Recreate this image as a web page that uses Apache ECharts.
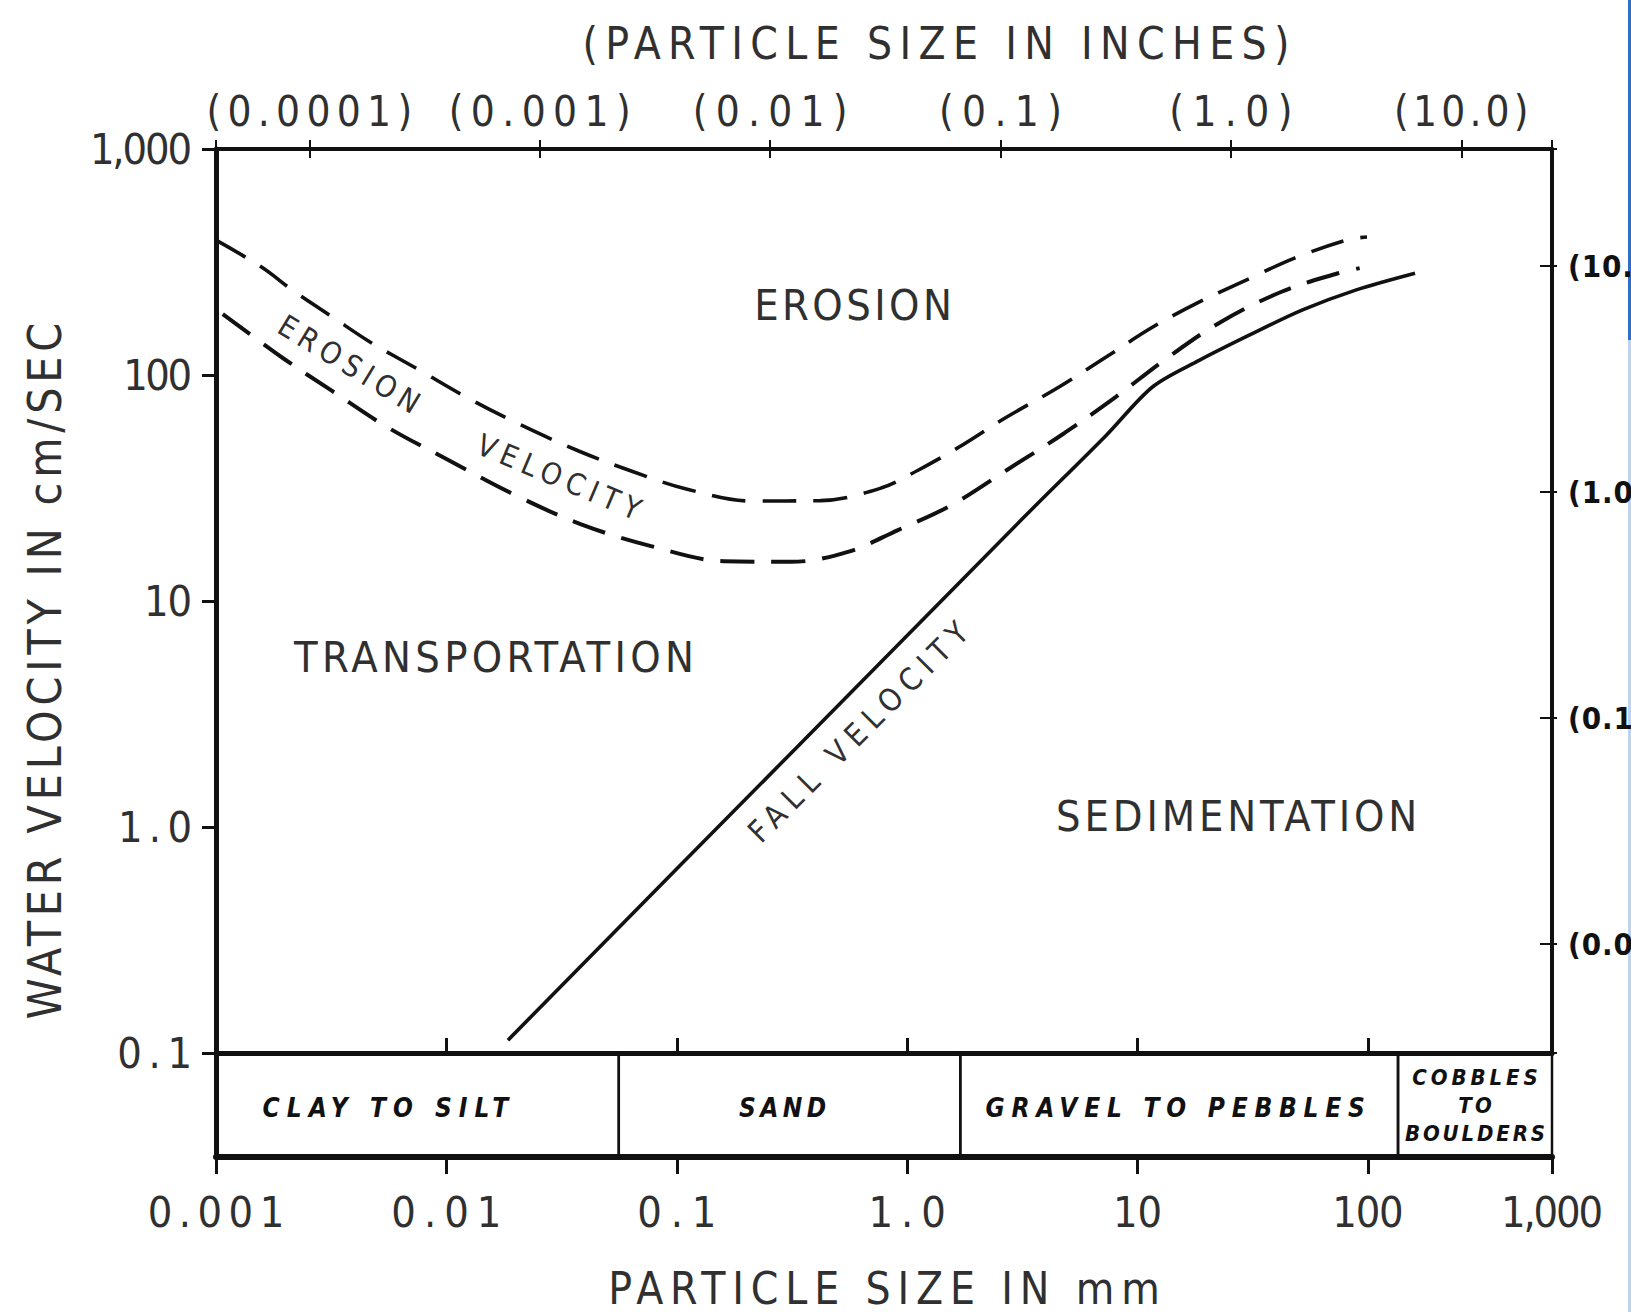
<!DOCTYPE html>
<html>
<head>
<meta charset="utf-8">
<title>Erosion, transportation and sedimentation vs particle size</title>
<script src="https://cdn.jsdelivr.net/npm/echarts@6.0.0/dist/echarts.min.js"></script>
<style>
html,body{margin:0;padding:0;background:#ffffff;overflow:hidden;}
#chart{width:1631px;height:1312px;}
</style>
</head>
<body>
<div id="chart"></div>
<script>
// ---------------- data ----------------
const xExtentMm = [0.001, 629];
const yExtentCmS = [0.1, 1000];
const MM_PER_INCH = 25.4;
const CM_PER_FOOT = 30.48;

const mmTickValues = [0.001, 0.01, 0.1, 1, 10, 100, 629];
const mmTickLabels = ['0.001', '0.01', '0.1', '1.0', '10', '100', '1,000'];
const inchTickValues = [0.0001, 0.001, 0.01, 0.1, 1, 10];
const inchTickLabels = ['(0.0001)', '(0.001)', '(0.01)', '(0.1)', '(1.0)', '(10.0)'];
const cmsTickValues = [0.1, 1, 10, 100, 1000];
const cmsTickLabels = ['0.1', '1.0', '10', '100', '1,000'];
const ftsTickValues = [0.01, 0.1, 1, 10];
const ftsTickLabels = ['(0.01)', '(0.1)', '(1.0)', '(10.0)'];

const sizeClassNames = ['CLAY TO SILT', 'SAND', 'GRAVEL TO PEBBLES', 'COBBLES\nTO\nBOULDERS'];
const sizeClassBounds = [0.001, 0.056, 1.7, 135, 629];

// upper limit of erosion velocity band [mm, cm/s]
const erosionUpper = [
  [0.001, 395], [0.00157, 301], [0.0022, 233], [0.00319, 181], [0.00466, 140],
  [0.00753, 106], [0.0126, 78.4], [0.0215, 59.5], [0.0375, 46.1], [0.0652, 37.2],
  [0.11, 31.3], [0.21, 27.7], [0.42, 27.8], [0.77, 31.6], [1.12, 38], [1.68, 48],
  [2.66, 64.5], [4.56, 88.5], [7.3, 120], [11.4, 161], [18.1, 208], [31, 269],
  [48, 329], [81, 396], [99, 408]
];
// lower limit of erosion velocity band
const erosionLower = [
  [0.00107, 186], [0.00197, 118], [0.00319, 85], [0.00552, 58.9], [0.01, 42.5],
  [0.0195, 29.7], [0.0382, 21.9], [0.0773, 17.5], [0.16, 15.0], [0.313, 14.9],
  [0.553, 16.5], [0.912, 20.6], [1.56, 26.6], [2.71, 38], [4.82, 55.4], [8.05, 80],
  [13, 116], [22.6, 170], [41.9, 233], [74, 282], [92, 297]
];
// fall velocity
const fallVelocity = [
  [0.0185, 0.114], [0.1, 0.653], [1, 7.03], [3.16, 23.1], [7.3, 54], [11.6, 88.5],
  [18.5, 116], [30.5, 150], [52, 194], [89, 238], [160, 282]
];

// ---------------- styling ----------------
const FONT = '"Liberation Sans Narrow","DejaVu Sans Condensed","Arial Narrow",sans-serif';
const INK = '#111111';
const TEXT = '#303030';
const classLabelShift = [-32, -7, -4, 0];

function fmt(values, labels) {
  return function (v) {
    const lv = Math.log10(v);
    for (let i = 0; i < values.length; i++) {
      if (Math.abs(lv - Math.log10(values[i])) < 1e-6) return labels[i];
    }
    return '';
  };
}

const numLabel = { fontFamily: FONT, fontSize: 43, color: TEXT };

const option = {
  animation: false,
  backgroundColor: '#ffffff',
  textStyle: { fontFamily: FONT },
  grid: [
    { left: 216, top: 149, width: 1336, height: 904, containLabel: false, outerBoundsMode: 'none' },
    { left: 216, top: 1053, width: 1336, height: 104, containLabel: false, outerBoundsMode: 'none' }
  ],
  xAxis: [
    { gridIndex: 0, type: 'log', logBase: 10, position: 'bottom',
      min: xExtentMm[0], max: xExtentMm[1],
      axisLine: { show: true, onZero: false, lineStyle: { color: INK, width: 5 } },
      axisTick: { show: true, inside: true, length: 15, lineStyle: { color: INK, width: 3 } },
      axisLabel: { show: false }, splitLine: { show: false } },
    { gridIndex: 0, type: 'log', logBase: 10, position: 'top',
      min: xExtentMm[0] / MM_PER_INCH, max: xExtentMm[1] / MM_PER_INCH,
      axisLine: { show: true, onZero: false, lineStyle: { color: INK, width: 4 } },
      axisTick: { show: true, inside: false, length: 9, lineStyle: { color: INK, width: 2 } },
      axisLabel: Object.assign({}, numLabel, { fontSize: 42, margin: 17, showMinLabel: true, showMaxLabel: true,
        formatter: fmt(inchTickValues, inchTickLabels) }),
      splitLine: { show: false } },
    { gridIndex: 0, type: 'log', logBase: 10, position: 'top',
      min: xExtentMm[0] / MM_PER_INCH, max: xExtentMm[1] / MM_PER_INCH,
      axisLine: { show: false },
      axisTick: { show: true, inside: true, length: 9, lineStyle: { color: INK, width: 2 } },
      axisLabel: { show: false }, splitLine: { show: false } },
    { gridIndex: 1, type: 'log', logBase: 10, position: 'bottom',
      min: xExtentMm[0], max: xExtentMm[1],
      axisLine: { show: true, onZero: false, lineStyle: { color: INK, width: 6 } },
      axisTick: { show: true, inside: false, length: 17, lineStyle: { color: INK, width: 3 } },
      axisLabel: Object.assign({}, numLabel, { margin: 33, showMinLabel: true, showMaxLabel: true,
        formatter: fmt(mmTickValues, mmTickLabels) }),
      splitLine: { show: false } }
  ],
  yAxis: [
    { gridIndex: 0, type: 'log', logBase: 10, position: 'left',
      min: yExtentCmS[0], max: yExtentCmS[1],
      axisLine: { show: true, onZero: false, lineStyle: { color: INK, width: 5 } },
      axisTick: { show: true, inside: false, length: 14, lineStyle: { color: INK, width: 3 } },
      axisLabel: Object.assign({}, numLabel, { margin: 24, showMinLabel: true, showMaxLabel: true,
        formatter: fmt(cmsTickValues, cmsTickLabels) }),
      splitLine: { show: false } },
    { gridIndex: 0, type: 'log', logBase: 10, position: 'right',
      min: yExtentCmS[0] / CM_PER_FOOT, max: yExtentCmS[1] / CM_PER_FOOT,
      axisLine: { show: true, onZero: false, lineStyle: { color: INK, width: 4 } },
      axisTick: { show: true, inside: true, length: 12, lineStyle: { color: INK, width: 2 } },
      axisLabel: { show: false }, splitLine: { show: false } },
    { gridIndex: 0, type: 'log', logBase: 10, position: 'right',
      min: yExtentCmS[0] / CM_PER_FOOT, max: yExtentCmS[1] / CM_PER_FOOT,
      axisLine: { show: false },
      axisTick: { show: true, inside: false, length: 5, lineStyle: { color: INK, width: 2 } },
      axisLabel: { fontFamily: FONT, fontSize: 31, fontWeight: 'bold', color: INK, margin: 16,
        formatter: fmt(ftsTickValues, ftsTickLabels) },
      splitLine: { show: false } },
    { gridIndex: 1, type: 'value', position: 'left', min: 0, max: 1,
      axisLine: { show: true, onZero: false, lineStyle: { color: INK, width: 5 } },
      axisTick: { show: false }, axisLabel: { show: false }, splitLine: { show: false } }
  ],
  series: [
    { name: 'erosion upper', type: 'line', xAxisIndex: 0, yAxisIndex: 0, data: erosionUpper,
      showSymbol: false, smooth: 0.35, silent: true, z: 3,
      lineStyle: { color: INK, width: 3.6, type: [34, 17] } },
    { name: 'erosion lower', type: 'line', xAxisIndex: 0, yAxisIndex: 0, data: erosionLower,
      showSymbol: false, smooth: 0.35, silent: true, z: 3,
      lineStyle: { color: INK, width: 4, type: [34, 17] } },
    { name: 'fall velocity', type: 'line', xAxisIndex: 0, yAxisIndex: 0, data: fallVelocity,
      showSymbol: false, smooth: 0.3, silent: true, z: 3,
      lineStyle: { color: INK, width: 3.6 } },
    { name: 'size classes', type: 'custom', xAxisIndex: 3, yAxisIndex: 3, silent: true, z: 4,
      data: sizeClassNames.map(function (n, i) { return [sizeClassBounds[i], sizeClassBounds[i + 1], 0, 1]; }),
      encode: { x: [0, 1], y: [2, 3] },
      renderItem: function (params, api) {
        const a = api.coord([api.value(0), api.value(3)]);
        const b = api.coord([api.value(1), api.value(2)]);
        const name = sizeClassNames[params.dataIndex];
        const multi = name.indexOf('\n') >= 0;
        return { type: 'group', children: [
          { type: 'rect', shape: { x: a[0], y: a[1], width: b[0] - a[0], height: b[1] - a[1] },
            style: { fill: 'none', stroke: INK, lineWidth: 2.5 } },
          { type: 'text', style: { text: name,
            x: (a[0] + b[0]) / 2 + classLabelShift[params.dataIndex],
            y: (a[1] + b[1]) / 2 + (multi ? 0 : 3),
            align: 'center', verticalAlign: 'middle', fontFamily: FONT,
            fontSize: multi ? 22 : 26, fontStyle: 'italic', fontWeight: 'bold', fill: INK,
            lineHeight: multi ? 28 : 30 } }
        ] };
      } }
  ],
  graphic: [
    { type: 'text', x: 853, y: 305, silent: true,
      style: { text: 'EROSION', fontFamily: FONT, fontSize: 43, fill: TEXT, align: 'center', verticalAlign: 'middle' } },
    { type: 'text', x: 294, y: 657, silent: true,
      style: { text: 'TRANSPORTATION', fontFamily: FONT, fontSize: 43, fill: TEXT, align: 'left', verticalAlign: 'middle' } },
    { type: 'text', x: 1056, y: 816, silent: true,
      style: { text: 'SEDIMENTATION', fontFamily: FONT, fontSize: 43, fill: TEXT, align: 'left', verticalAlign: 'middle' } },
    { type: 'text', x: 858, y: 732, rotation: Math.PI / 4, silent: true,
      style: { text: 'FALL VELOCITY', fontFamily: FONT, fontSize: 31, fill: TEXT, align: 'center', verticalAlign: 'middle' } },
    { type: 'text', x: 349, y: 364, rotation: -0.548, silent: true,
      style: { text: 'EROSION', fontFamily: FONT, fontSize: 30, fill: TEXT, align: 'center', verticalAlign: 'middle' } },
    { type: 'text', x: 559, y: 477, rotation: -0.40, silent: true,
      style: { text: 'VELOCITY', fontFamily: FONT, fontSize: 30, fill: TEXT, align: 'center', verticalAlign: 'middle' } },
    { type: 'text', x: 936, y: 43, silent: true,
      style: { text: '(PARTICLE SIZE IN INCHES)', fontFamily: FONT, fontSize: 44, fill: TEXT, align: 'center', verticalAlign: 'middle' } },
    { type: 'text', x: 884, y: 1288, silent: true,
      style: { text: 'PARTICLE SIZE IN mm', fontFamily: FONT, fontSize: 44, fill: TEXT, align: 'center', verticalAlign: 'middle' } },
    { type: 'text', x: 45, y: 671, rotation: Math.PI / 2, silent: true,
      style: { text: 'WATER VELOCITY IN cm/SEC', fontFamily: FONT, fontSize: 46, fill: TEXT, align: 'center', verticalAlign: 'middle' } },
    { type: 'rect', shape: { x: 1628, y: 0, width: 3, height: 340 }, style: { fill: '#2f6fc8' }, silent: true },
    { type: 'rect', shape: { x: 1628, y: 340, width: 3, height: 972 }, style: { fill: '#bdd4f1' }, silent: true }
  ]
};

// letter spacing of the hand lettering (in em)
const spacingEm = {
  'EROSION': 0.08, 'TRANSPORTATION': 0.1, 'SEDIMENTATION': 0.09,
  'VELOCITY': 0.21, 'FALL VELOCITY': 0.24,
  '(PARTICLE SIZE IN INCHES)': 0.167, 'PARTICLE SIZE IN mm': 0.156, 'WATER VELOCITY IN cm/SEC': 0.106,
  '0.001': 0.15, '0.01': 0.186, '0.1': 0.207, '1.0': 0.185, '10': 0, '100': -0.03, '1,000': -0.05,
  '(0.0001)': 0.15, '(0.001)': 0.176, '(0.01)': 0.196, '(0.1)': 0.2, '(1.0)': 0.2, '(10.0)': 0.1,
  'CLAY TO SILT': 0.27, 'SAND': 0.17, 'GRAVEL TO PEBBLES': 0.26, 'COBBLES': 0.18, 'TO': 0.15, 'BOULDERS': 0.13
};
const leftSpacingEm = { '1,000': -0.05, '100': -0.06, '10': -0.03, '1.0': 0.145, '0.1': 0.155 };

const chart = echarts.init(document.getElementById('chart'), null, { renderer: 'svg', width: 1631, height: 1312 });

function applySpacing() {
  document.querySelectorAll('#chart text').forEach(function (t) {
    const s = (t.textContent || '').trim();
    const fs = parseFloat(getComputedStyle(t).fontSize) || 16;
    const anchor = t.getAttribute('text-anchor') || getComputedStyle(t).textAnchor;
    let em = spacingEm[s];
    if (anchor === 'end' && leftSpacingEm[s] !== undefined) em = leftSpacingEm[s];
    if (anchor === 'start' && s.charAt(0) === '(') em = 0.03;
    if (s === 'EROSION' && fs < 36) em = 0.2;
    if (em === undefined) em = 0.1;
    const sp = em * fs;
    t.setAttribute('letter-spacing', sp.toFixed(2) + 'px');
    if (anchor === 'middle') t.setAttribute('dx', (sp / 2).toFixed(2));
    else if (anchor === 'end') t.setAttribute('dx', sp.toFixed(2));
  });
}
chart.on('finished', applySpacing);
chart.setOption(option);
setTimeout(applySpacing, 30);
</script>
</body>
</html>
